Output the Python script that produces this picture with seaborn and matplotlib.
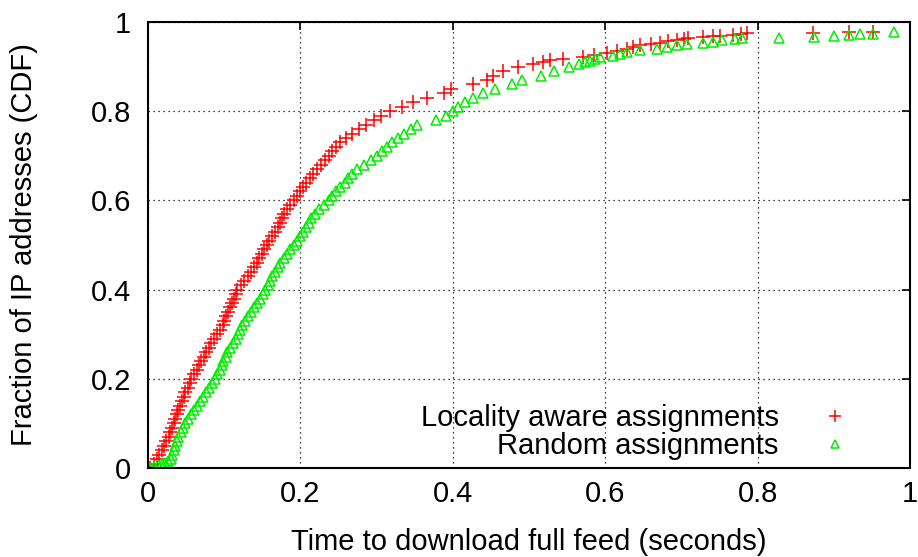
import matplotlib
matplotlib.use("Agg")
import matplotlib.pyplot as plt
import seaborn as sns
import pandas as pd

# CDF of feed download times, locality-aware server assignment
locality_time = [
    0.002, 0.008, 0.012, 0.015, 0.018, 0.021, 0.024, 0.027, 0.029, 0.031,
    0.034, 0.036, 0.038, 0.040, 0.042, 0.045, 0.047, 0.049, 0.052, 0.055,
    0.057, 0.060, 0.064, 0.067, 0.070, 0.073, 0.076, 0.080, 0.083, 0.087,
    0.091, 0.095, 0.098, 0.100, 0.103, 0.105, 0.108, 0.110, 0.113, 0.115,
    0.117, 0.122, 0.126, 0.131, 0.135, 0.139, 0.143, 0.146, 0.149, 0.152,
    0.156, 0.159, 0.163, 0.167, 0.171, 0.173, 0.176, 0.179, 0.182, 0.186,
    0.191, 0.196, 0.200, 0.204, 0.208, 0.212, 0.217, 0.222, 0.227, 0.232,
    0.237, 0.242, 0.247, 0.252, 0.260, 0.268, 0.277, 0.286, 0.296, 0.306,
    0.318, 0.333, 0.348, 0.366, 0.388, 0.398, 0.426, 0.445, 0.453, 0.466,
    0.485, 0.505, 0.518, 0.528, 0.545, 0.571, 0.585, 0.602, 0.615, 0.629,
    0.636, 0.646, 0.660, 0.672, 0.683, 0.694, 0.703, 0.709, 0.728, 0.742,
    0.750, 0.768, 0.778, 0.786, 0.873, 0.920, 0.951,
]
locality_cdf = [
    0.00, 0.01, 0.02, 0.03, 0.04, 0.05, 0.06, 0.07, 0.08, 0.09,
    0.10, 0.11, 0.12, 0.13, 0.14, 0.15, 0.16, 0.17, 0.18, 0.19,
    0.20, 0.21, 0.22, 0.23, 0.24, 0.25, 0.26, 0.27, 0.28, 0.29,
    0.30, 0.31, 0.32, 0.33, 0.34, 0.35, 0.36, 0.37, 0.38, 0.39,
    0.40, 0.41, 0.42, 0.43, 0.44, 0.45, 0.46, 0.47, 0.48, 0.49,
    0.50, 0.51, 0.52, 0.53, 0.54, 0.55, 0.56, 0.57, 0.58, 0.59,
    0.60, 0.61, 0.62, 0.63, 0.64, 0.65, 0.66, 0.67, 0.68, 0.69,
    0.70, 0.71, 0.72, 0.73, 0.74, 0.75, 0.76, 0.77, 0.78, 0.79,
    0.80, 0.81, 0.82, 0.83, 0.84, 0.85, 0.86, 0.87, 0.88, 0.89,
    0.900, 0.905, 0.910, 0.914, 0.918, 0.921, 0.925, 0.930, 0.935, 0.940,
    0.944, 0.948, 0.951, 0.953, 0.957, 0.960, 0.962, 0.965, 0.966, 0.968,
    0.969, 0.971, 0.973, 0.975, 0.976, 0.977, 0.978,
]

# CDF of feed download times, random server assignment
random_time = [
    0.003, 0.008, 0.013, 0.018, 0.022, 0.026, 0.030, 0.032, 0.034, 0.036,
    0.038, 0.040, 0.043, 0.046, 0.049, 0.052, 0.056, 0.060, 0.064, 0.068,
    0.072, 0.076, 0.080, 0.084, 0.088, 0.091, 0.094, 0.097, 0.099, 0.102,
    0.104, 0.108, 0.111, 0.115, 0.118, 0.121, 0.124, 0.127, 0.131, 0.135,
    0.139, 0.143, 0.147, 0.151, 0.154, 0.157, 0.160, 0.163, 0.167, 0.170,
    0.173, 0.178, 0.182, 0.186, 0.191, 0.195, 0.199, 0.203, 0.207, 0.211,
    0.214, 0.219, 0.225, 0.231, 0.237, 0.242, 0.247, 0.252, 0.258, 0.263,
    0.268, 0.274, 0.283, 0.293, 0.301, 0.307, 0.313, 0.320, 0.328, 0.336,
    0.345, 0.353, 0.378, 0.391, 0.400, 0.407, 0.416, 0.427, 0.439, 0.455,
    0.478, 0.491, 0.516, 0.533, 0.552, 0.565, 0.574, 0.580, 0.587, 0.593,
    0.610, 0.620, 0.629, 0.646, 0.668, 0.681, 0.694, 0.707, 0.728, 0.741,
    0.753, 0.770, 0.779, 0.828, 0.874, 0.900, 0.920, 0.935, 0.951, 0.979,
]
random_cdf = [
    0.000, 0.003, 0.006, 0.009, 0.012, 0.015, 0.02, 0.03, 0.04, 0.05,
    0.06, 0.07, 0.08, 0.09, 0.10, 0.11, 0.12, 0.13, 0.14, 0.15,
    0.16, 0.17, 0.18, 0.19, 0.20, 0.21, 0.22, 0.23, 0.24, 0.25,
    0.26, 0.27, 0.28, 0.29, 0.30, 0.31, 0.32, 0.33, 0.34, 0.35,
    0.36, 0.37, 0.38, 0.39, 0.40, 0.41, 0.42, 0.43, 0.44, 0.45,
    0.46, 0.47, 0.48, 0.49, 0.50, 0.51, 0.52, 0.53, 0.54, 0.55,
    0.56, 0.57, 0.58, 0.59, 0.60, 0.61, 0.62, 0.63, 0.64, 0.65,
    0.66, 0.67, 0.68, 0.69, 0.70, 0.71, 0.72, 0.73, 0.74, 0.75,
    0.76, 0.77, 0.78, 0.79, 0.80, 0.81, 0.82, 0.83, 0.84, 0.85,
    0.86, 0.87, 0.88, 0.89, 0.900, 0.905, 0.910, 0.913, 0.917, 0.921,
    0.924, 0.928, 0.933, 0.937, 0.940, 0.944, 0.948, 0.950, 0.953, 0.956,
    0.960, 0.963, 0.964, 0.965, 0.967, 0.969, 0.971, 0.972, 0.974, 0.977,
]

series_labels = ["Locality aware assignments", "Random assignments"]
tick_values = [0, 0.2, 0.4, 0.6, 0.8, 1]
tick_labels = ["0", "0.2", "0.4", "0.6", "0.8", "1"]

RED = "#ff0000"
GREEN = "#00ee00"

sns.set_style("white")
plt.rcParams["font.family"] = ["Liberation Sans", "DejaVu Sans"]
plt.rcParams["text.color"] = "black"
plt.rcParams["axes.labelcolor"] = "black"

fig = plt.figure(figsize=(9.18, 5.57), dpi=100)
ax = fig.add_axes([148 / 918, 89 / 557, 762 / 918, 446 / 557])

loc_df = pd.DataFrame({"t": locality_time, "cdf": locality_cdf})
rnd_df = pd.DataFrame({"t": random_time, "cdf": random_cdf})

sns.lineplot(data=loc_df, x="t", y="cdf", ax=ax, estimator=None, sort=False,
             linestyle="none", marker="+", markersize=10, markeredgewidth=1.1,
             markeredgecolor=RED, color=RED, label=series_labels[0])
sns.lineplot(data=rnd_df, x="t", y="cdf", ax=ax, estimator=None, sort=False,
             linestyle="none", marker="^", markersize=7.5, markeredgewidth=1.1,
             markerfacecolor="none", markeredgecolor=GREEN,
             color=GREEN, label=series_labels[1])

ax.set_xlim(0, 1)
ax.set_ylim(0, 1)
ax.set_xticks(tick_values)
ax.set_xticklabels(tick_labels)
ax.set_yticks(tick_values)
ax.set_yticklabels(tick_labels)
ax.grid(True, color="black", linestyle=(0, (1, 3)), linewidth=0.9)

for sp in ax.spines.values():
    sp.set_visible(True)
    sp.set_color("black")
    sp.set_linewidth(1.5)

ax.tick_params(axis="both", which="major", direction="in", length=6, width=1.2,
               top=True, right=True, labelsize=21, colors="black")
ax.tick_params(axis="x", pad=9)
ax.tick_params(axis="y", pad=12)

ax.set_xlabel("Time to download full feed (seconds)", fontsize=21, labelpad=14)
ax.set_ylabel("Fraction of IP addresses (CDF)", fontsize=21, labelpad=38)

ax.legend(loc="lower right", bbox_to_anchor=(0.971, -0.035), markerfirst=False,
          frameon=False, fontsize=21, handlelength=2.0, handletextpad=0.95,
          labelspacing=0.0, borderpad=0.3, markerscale=0.8)

fig.savefig("out.png", dpi=100)
